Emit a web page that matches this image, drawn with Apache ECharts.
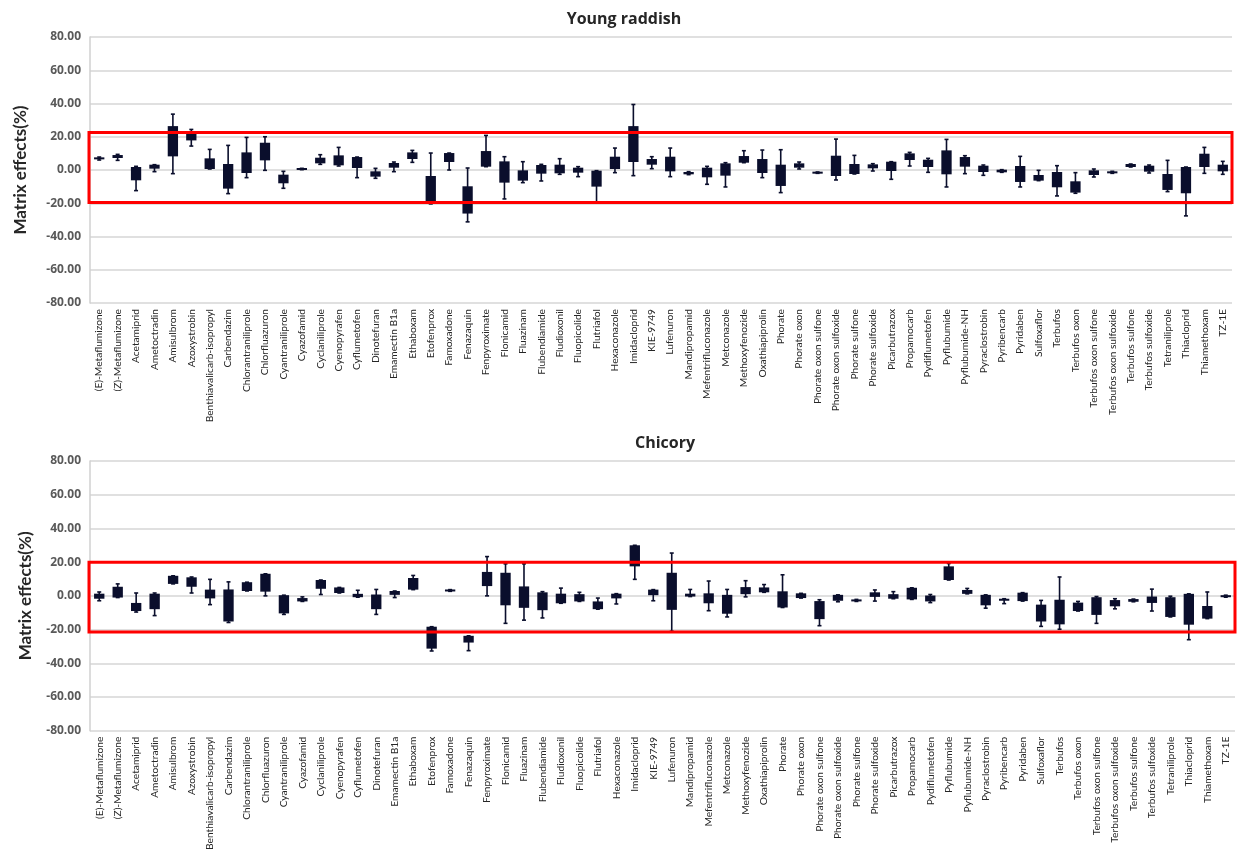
<!DOCTYPE html>
<html>
<head>
<meta charset="utf-8">
<script src="https://cdn.jsdelivr.net/npm/echarts@6/dist/echarts.min.js"></script>
<style>
  html, body { margin: 0; padding: 0; background: #ffffff; }
  #chart { width: 1239px; height: 853px; }
</style>
</head>
<body>
<div id="chart"></div>
<script>
// Pesticide names shared by both panels
const categories = [
  '(E)-Metaflumizone', '(Z)-Metaflumizone', 'Acetamiprid', 'Ametoctradin', 'Amisulbrom',
  'Azoxystrobin', 'Benthiavalicarb-isopropyl', 'Carbendazim', 'Chlorantraniliprole', 'Chlorfluazuron',
  'Cyantraniliprole', 'Cyazofamid', 'Cyclaniliprole', 'Cyenopyrafen', 'Cyflumetofen',
  'Dinotefuran', 'Emamectin B1a', 'Ethaboxam', 'Etofenprox', 'Famoxadone',
  'Fenazaquin', 'Fenpyroximate', 'Flonicamid', 'Fluazinam', 'Flubendiamide',
  'Fludioxonil', 'Fluopicolide', 'Flutriafol', 'Hexaconazole', 'Imidacloprid',
  'KIE-9749', 'Lufenuron', 'Mandipropamid', 'Mefentrifluconazole', 'Metconazole',
  'Methoxyfenozide', 'Oxathiapiprolin', 'Phorate', 'Phorate oxon', 'Phorate oxon sulfone',
  'Phorate oxon sulfoxide', 'Phorate sulfone', 'Phorate sulfoxide', 'Picarbutrazox', 'Propamocarb',
  'Pydiflumetofen', 'Pyflubumide', 'Pyflubumide-NH', 'Pyraclostrobin', 'Pyribencarb',
  'Pyridaben', 'Sulfoxaflor', 'Terbufos', 'Terbufos oxon', 'Terbufos oxon sulfone',
  'Terbufos oxon sulfoxide', 'Terbufos sulfone', 'Terbufos sulfoxide', 'Tetraniliprole', 'Thiacloprid',
  'Thiamethoxam', 'TZ-1E'
];

// Y axis scale (Matrix effects, %)
const yMin = -80;
const yMax = 80;
const yStep = 20;

// Young raddish: box top / box bottom / upper whisker / lower whisker
const raddishBoxTop = [
  7.5, 9.0, 1.8, 3.2, 26.4, 22.6, 7.0, 3.6, 10.6, 16.4,
  -2.8, 1.0, 7.4, 8.8, 7.8, -0.8, 4.2, 10.6, -3.6, 10.2,
  -9.8, 11.4, 5.2, -0.2, 3.0, 3.2, 1.4, -0.4, 8.0, 26.4,
  6.6, 8.0, -1.2, 1.4, 4.0, 8.4, 6.6, 3.2, 4.0, -1.2,
  8.6, 3.6, 3.4, 5.0, 10.0, 6.2, 11.8, 7.8, 2.6, 0.2,
  2.4, -3.0, -1.2, -6.8, -0.2, -0.8, 3.6, 2.6, -2.4, 1.8,
  9.8, 3.2
];
const raddishBoxBottom = [
  6.5, 7.2, -6.2, 0.8, 8.2, 17.8, 0.6, -11.2, -1.8, 5.8,
  -8.0, 0.2, 4.0, 2.8, 1.2, -4.0, 1.4, 6.6, -19.6, 4.8,
  -26.2, 2.0, -7.6, -6.4, -2.2, -2.0, -1.6, -10.0, 0.6, 4.8,
  3.2, -0.8, -2.6, -4.4, -3.4, 4.4, -1.8, -9.6, 1.4, -2.0,
  -3.6, -2.4, 1.0, -0.6, 6.0, 1.8, -2.6, 2.0, -1.2, -1.4,
  -7.2, -6.4, -10.4, -13.6, -3.0, -2.0, 1.8, -1.0, -12.0, -14.0,
  1.8, -0.8
];
const raddishHigh = [
  7.8, 9.4, 2.2, 3.2, 33.6, 24.4, 12.4, 14.8, 19.6, 20.0,
  -0.8, 1.0, 9.2, 13.6, 7.8, 1.0, 4.8, 11.8, 10.2, 10.2,
  1.2, 20.8, 8.0, 5.0, 3.4, 6.8, 2.0, -0.4, 13.2, 39.4,
  8.0, 13.2, -1.0, 2.2, 4.4, 11.6, 12.0, 12.2, 4.8, -1.2,
  18.6, 8.8, 3.8, 5.0, 10.6, 7.0, 18.4, 8.6, 3.0, 0.2,
  8.2, -0.2, 2.6, -1.6, 0.6, -0.8, 3.6, 3.0, 5.8, 1.8,
  13.6, 5.2
];
const raddishLow = [
  6.0, 5.8, -12.4, -1.0, -2.2, 14.4, 0.6, -14.2, -4.6, -0.2,
  -11.0, 0.2, 3.4, 2.4, -4.6, -5.0, -1.0, 4.6, -20.4, 0.0,
  -31.2, 2.0, -17.4, -7.6, -6.6, -2.6, -4.0, -19.6, -1.6, -3.4,
  0.8, -4.0, -2.8, -8.6, -10.2, 4.4, -4.6, -13.6, 0.6, -2.0,
  -6.0, -2.4, -0.6, -5.6, 2.4, -1.4, -10.2, -2.2, -3.2, -1.4,
  -10.2, -6.4, -15.6, -14.0, -4.2, -2.0, 1.8, -1.8, -13.0, -27.6,
  -2.0, -2.6
];

// Chicory: box top / box bottom / upper whisker / lower whisker
const chicoryBoxTop = [
  1.3, 5.4, -4.2, 1.3, 11.9, 11.0, 3.7, 3.8, 8.1, 13.1,
  0.4, -1.3, 9.4, 5.0, 1.2, 0.8, 2.9, 10.6, -18.3, 3.7,
  -23.7, 14.2, 13.7, 5.6, 2.1, 1.3, 1.0, -3.3, 1.3, 30.0,
  3.7, 13.7, 1.3, 1.5, 0.6, 5.2, 5.0, 2.7, 1.5, -3.1,
  0.6, -2.1, 2.1, 1.0, 4.8, 0.2, 17.5, 3.5, 0.6, -1.7,
  1.9, -5.2, -2.3, -4.0, -0.8, -2.5, -1.9, -0.4, -0.8, 1.2,
  -6.0, 0.4
];
const chicoryBoxBottom = [
  -1.7, -1.0, -9.0, -7.9, 7.1, 5.4, -1.5, -15.2, 2.9, 2.5,
  -10.4, -3.3, 4.2, 1.7, -0.8, -7.9, 0.6, 3.7, -31.3, 2.7,
  -27.7, 5.8, -5.6, -7.1, -8.5, -4.4, -3.3, -7.9, -1.5, 17.5,
  0.4, -8.3, -0.4, -4.4, -10.6, 1.0, 2.1, -6.9, -1.3, -13.8,
  -2.9, -3.3, -0.6, -1.7, -2.1, -3.3, 9.4, 1.2, -5.6, -2.9,
  -3.1, -15.2, -16.9, -9.0, -11.3, -6.2, -3.5, -4.2, -12.5, -17.1,
  -13.5, -0.8
];
const chicoryHigh = [
  2.3, 7.1, 1.7, 1.7, 11.9, 11.2, 9.8, 8.3, 8.1, 13.1,
  0.4, -0.6, 9.4, 5.0, 3.3, 3.8, 2.9, 12.1, -18.3, 3.7,
  -23.7, 23.3, 19.0, 19.0, 2.5, 4.6, 2.1, -1.3, 1.3, 30.0,
  3.7, 25.4, 3.8, 8.8, 3.8, 9.0, 6.7, 12.5, 1.5, -2.3,
  0.6, -2.1, 3.5, 2.5, 4.8, 0.8, 19.2, 4.4, 0.6, -1.7,
  1.9, -2.7, 11.2, -3.3, -0.4, -1.7, -1.9, 4.0, -0.2, 1.2,
  2.3, 0.4
];
const chicoryLow = [
  -2.9, -1.0, -9.6, -11.7, 7.1, 1.7, -5.2, -15.8, 2.9, 0.0,
  -11.0, -3.3, 0.8, 1.7, -0.8, -11.0, -1.0, 3.7, -32.7, 2.7,
  -32.5, 0.0, -16.3, -14.4, -13.1, -4.4, -3.3, -7.9, -4.8, 9.8,
  -2.9, -21.0, -0.4, -8.8, -12.5, -0.6, 2.1, -6.9, -1.3, -17.7,
  -3.5, -3.3, -3.1, -1.7, -2.1, -4.0, 9.4, 1.2, -7.3, -4.6,
  -3.1, -18.1, -19.8, -9.0, -16.3, -7.7, -3.5, -9.0, -12.5, -26.0,
  -13.5, -0.8
];

// Highlighted acceptance band (upper edge, lower edge) for each panel
const raddishBand = [22.6, -19.6];
const chicoryBand = [20.0, -21.5];

const markColor = '#0a0e2c';
const bandColor = '#ff0000';

function rows(top, bottom, high, low) {
  return categories.map(function (c, i) { return [i, top[i], bottom[i], high[i], low[i]]; });
}

// Box with whisker line and small end caps
function renderBox(params, api) {
  const idx = api.value(0);
  const pTop = api.coord([idx, api.value(1)]);
  const pBot = api.coord([idx, api.value(2)]);
  const pHigh = api.coord([idx, api.value(3)]);
  const pLow = api.coord([idx, api.value(4)]);
  const band = api.size([1, 0])[0];
  const w = band * 0.56;
  const cap = 4;
  const x = pTop[0];
  let y0 = Math.min(pTop[1], pBot[1]);
  let h = Math.abs(pBot[1] - pTop[1]);
  if (h < 2) { y0 -= (2 - h) / 2; h = 2; }
  const lineStyle = { stroke: markColor, lineWidth: 1.6 };
  return {
    type: 'group',
    children: [
      { type: 'line', shape: { x1: x, y1: pHigh[1], x2: x, y2: pLow[1] }, style: lineStyle },
      { type: 'line', shape: { x1: x - cap / 2, y1: pHigh[1], x2: x + cap / 2, y2: pHigh[1] }, style: lineStyle },
      { type: 'line', shape: { x1: x - cap / 2, y1: pLow[1], x2: x + cap / 2, y2: pLow[1] }, style: lineStyle },
      { type: 'rect', shape: { x: x - w / 2, y: y0, width: w, height: h }, style: { fill: markColor } }
    ]
  };
}

// Red frame spanning the full plot width between two y values
function renderBand(params, api) {
  const cs = params.coordSys;
  const yTop = api.coord([0, api.value(0)])[1];
  const yBot = api.coord([0, api.value(1)])[1];
  return {
    type: 'rect',
    shape: { x: cs.x - 1, y: yTop, width: cs.width + 1, height: yBot - yTop },
    style: { fill: 'none', stroke: bandColor, lineWidth: 3 },
    z2: 10
  };
}

const labelFont = 'Lato, "Open Sans", sans-serif';
const headFont = '"Open Sans", Lato, sans-serif';

function xAxisCfg(gridIndex) {
  return {
    type: 'category',
    gridIndex: gridIndex,
    data: categories,
    axisLine: { show: false },
    axisTick: { show: false },
    axisLabel: {
      interval: 0, rotate: 90, fontSize: 10.2, color: '#262626',
      fontFamily: labelFont, margin: 6
    }
  };
}

function yAxisCfg(gridIndex, gap) {
  return {
    type: 'value',
    gridIndex: gridIndex,
    min: yMin, max: yMax, interval: yStep,
    name: 'Matrix effects(%)',
    nameLocation: 'middle',
    nameGap: gap,
    nameTextStyle: { fontSize: 17, fontWeight: 'bold', color: '#262626', fontFamily: labelFont },
    axisLine: { show: true, lineStyle: { color: '#d0d0d0', width: 1.5 } },
    axisTick: { show: false },
    splitLine: { lineStyle: { color: '#d6d6d6', width: 1.5 } },
    axisLabel: {
      fontSize: 12, fontWeight: 'bold', color: '#595959', fontFamily: headFont,
      margin: 9,
      formatter: function (v) { return v.toFixed(2); }
    }
  };
}

const chart = echarts.init(document.getElementById('chart'), null, { renderer: 'canvas' });

chart.setOption({
  backgroundColor: '#ffffff',
  animation: false,
  title: [
    { text: 'Young raddish', left: 619, top: 6, textAlign: 'center',
      textStyle: { fontSize: 16, fontWeight: 'bold', color: '#262626', fontFamily: headFont } },
    { text: 'Chicory', left: 660, top: 430, textAlign: 'center',
      textStyle: { fontSize: 16, fontWeight: 'bold', color: '#262626', fontFamily: headFont } }
  ],
  grid: [
    { left: 90, right: 7, top: 37, height: 266 },
    { left: 90, right: 4, top: 461, height: 277 }
  ],
  xAxis: [xAxisCfg(0), xAxisCfg(1)],
  yAxis: [yAxisCfg(0, 61), yAxisCfg(1, 56)],
  series: [
    {
      type: 'custom', xAxisIndex: 0, yAxisIndex: 0,
      renderItem: renderBox,
      encode: { x: 0, y: [1, 2, 3, 4] },
      data: rows(raddishBoxTop, raddishBoxBottom, raddishHigh, raddishLow),
      z: 3
    },
    {
      type: 'custom', xAxisIndex: 0, yAxisIndex: 0,
      renderItem: renderBand,
      encode: { y: [0, 1] },
      data: [raddishBand],
      silent: true, z: 4
    },
    {
      type: 'custom', xAxisIndex: 1, yAxisIndex: 1,
      renderItem: renderBox,
      encode: { x: 0, y: [1, 2, 3, 4] },
      data: rows(chicoryBoxTop, chicoryBoxBottom, chicoryHigh, chicoryLow),
      z: 3
    },
    {
      type: 'custom', xAxisIndex: 1, yAxisIndex: 1,
      renderItem: renderBand,
      encode: { y: [0, 1] },
      data: [chicoryBand],
      silent: true, z: 4
    }
  ]
});
</script>
</body>
</html>
